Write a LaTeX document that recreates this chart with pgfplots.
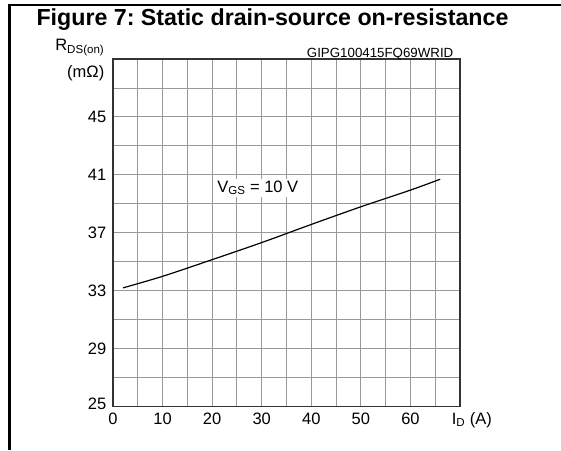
\documentclass[border=0pt]{standalone}
\usepackage{fontspec}
\setmainfont{Liberation Sans}
\usepackage{pgfplots}
\pgfplotsset{compat=1.18}
\begin{document}
\frenchspacing
\fontsize{16.5}{19}\selectfont
\begin{tikzpicture}
\path[use as bounding box] (0,0) rectangle (561pt,450pt);
\draw[line width=3pt] (9.5pt,0pt) -- (9.5pt,445.8pt);
\draw[line width=1.7pt] (8pt,445pt) -- (561pt,445pt);
\node[anchor=base, font=\fontsize{23.2}{26}\selectfont\bfseries] at (272.5pt,424pt) {Figure 7: Static drain-source on-resistance};
\begin{axis}[
  scale only axis, width=347pt, height=347.7pt,
  at={(113pt,43.3pt)}, anchor=south west,
  xmin=0, xmax=70, ymin=25, ymax=49,
  xtick={0,10,...,60}, minor xtick={5,15,...,65},
  ytick={25,29,...,45}, minor ytick={27,31,...,47},
  yticklabels={\raisebox{5pt}{25},29,33,37,41,45},
  grid=both,
  major grid style={draw=black!40, line width=0.9pt},
  minor grid style={draw=black!40, line width=0.9pt},
  major tick length=0pt, minor tick length=0pt,
  axis line style={draw=black!80, line width=1.3pt},
  /pgf/number format/assume math mode=true,
  tick label style={font=\fontsize{16.5}{19}\selectfont},
  xticklabel style={yshift=-1pt},
  yticklabel style={xshift=-1pt},
  clip=false,
]
\addplot[black, line width=1.2pt, smooth] coordinates {
(2,33.2) (10,34.0) (20,35.15) (30,36.33) (40,37.58) (50,38.8) (60,39.95) (66,40.7)
};
\node[fill=white, inner sep=2pt] at (axis cs:29.2,40.1) {V\textsubscript{GS} = 10 V};
\end{axis}
\node[anchor=base east] at (110pt,399pt) {R\textsubscript{DS(on)}};
\node[anchor=base east] at (110pt,372.3pt) {(mΩ)};
\node[anchor=base east, font=\fontsize{13.3}{16}\selectfont] at (459pt,392.7pt) {GIPG100415FQ69WRID};
\node[anchor=base west, inner sep=0pt] at (451.7pt,26pt) {I\textsubscript{D} (A)};
\end{tikzpicture}
\end{document}
